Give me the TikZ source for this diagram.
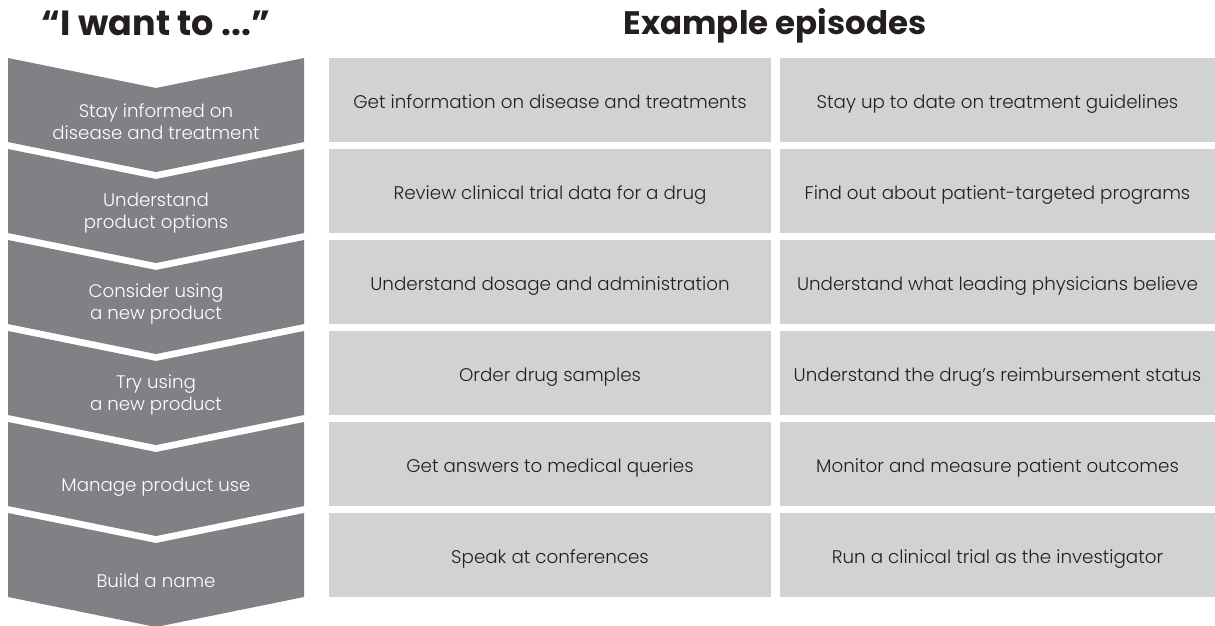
\documentclass[tikz,border=0pt]{standalone}
\usepackage{fontspec}
\setmainfont{Poppins}[UprightFont=* Light, BoldFont=* Bold]
\definecolor{chev}{HTML}{808184}
\definecolor{boxg}{HTML}{D1D2D4}
\definecolor{ink}{HTML}{231F20}
\tikzset{
  chevshape/.style={fill=chev, draw=none},
  boxshape/.style={fill=boxg, draw=none},
  chevtext/.style={text=white, align=center, inner sep=0pt, font=\fontsize{18.2}{22}\selectfont},
  boxtext/.style={text=ink, inner sep=0pt, anchor=base, font=\fontsize{18.3}{22}\selectfont},
  titletext/.style={text=ink, inner sep=0pt, anchor=base, font=\fontsize{32.5}{36}\selectfont\bfseries},
}
\begin{document}
\begin{tikzpicture}[x=1pt,y=-1pt]
\useasboundingbox (0,0) rectangle (1215,625);
\fill[white] (0,0) rectangle (1215,625);
% titles
\node[titletext, font=\fontsize{35}{38}\selectfont\bfseries] (t1) at (156,35) {“I want to ...”};
\node[titletext] (t2) at (775,34) {Example episodes};
% chevrons and boxes
\foreach \i/\lab/\ea/\eb/\dy [count=\k from 0] in {
  1/{Stay informed on\\disease and treatment}/{Get information on disease and treatments}/{Stay up to date on treatment guidelines}/64,
  2/{Understand\\product options}/{Review clinical trial data for a drug}/{Find out about patient-targeted programs}/64,
  3/{Consider using\\a new product}/{Understand dosage and administration}/{Understand what leading physicians believe}/64,
  4/{Try using\\a new product}/{Order drug samples}/{Understand the drug’s reimbursement status}/64,
  5/{Manage product use}/{Get answers to medical queries}/{Monitor and measure patient outcomes}/65,
  6/{Build a name}/{Speak at conferences}/{Run a clinical trial as the investigator}/68}
{
  \pgfmathsetmacro{\ty}{58+91*\k}
  \pgfmathsetmacro{\by}{\ty+84}
  \fill[chevshape] (8,\ty) -- (156,\ty+30) -- (304,\ty) -- (304,\by) -- (156,\by+30) -- (8,\by) -- cycle;
  \fill[boxshape] (329,\ty) rectangle (771,\by);
  \fill[boxshape] (780,\ty) rectangle (1215,\by);
  \node[chevtext] (c\i) at (156,\ty+\dy) {\lab};
  \node[boxtext] (a\i) at (550,\ty+50) {\ea};
  \node[boxtext] (b\i) at (997.5,\ty+50) {\eb};
}
\end{tikzpicture}
\end{document}
